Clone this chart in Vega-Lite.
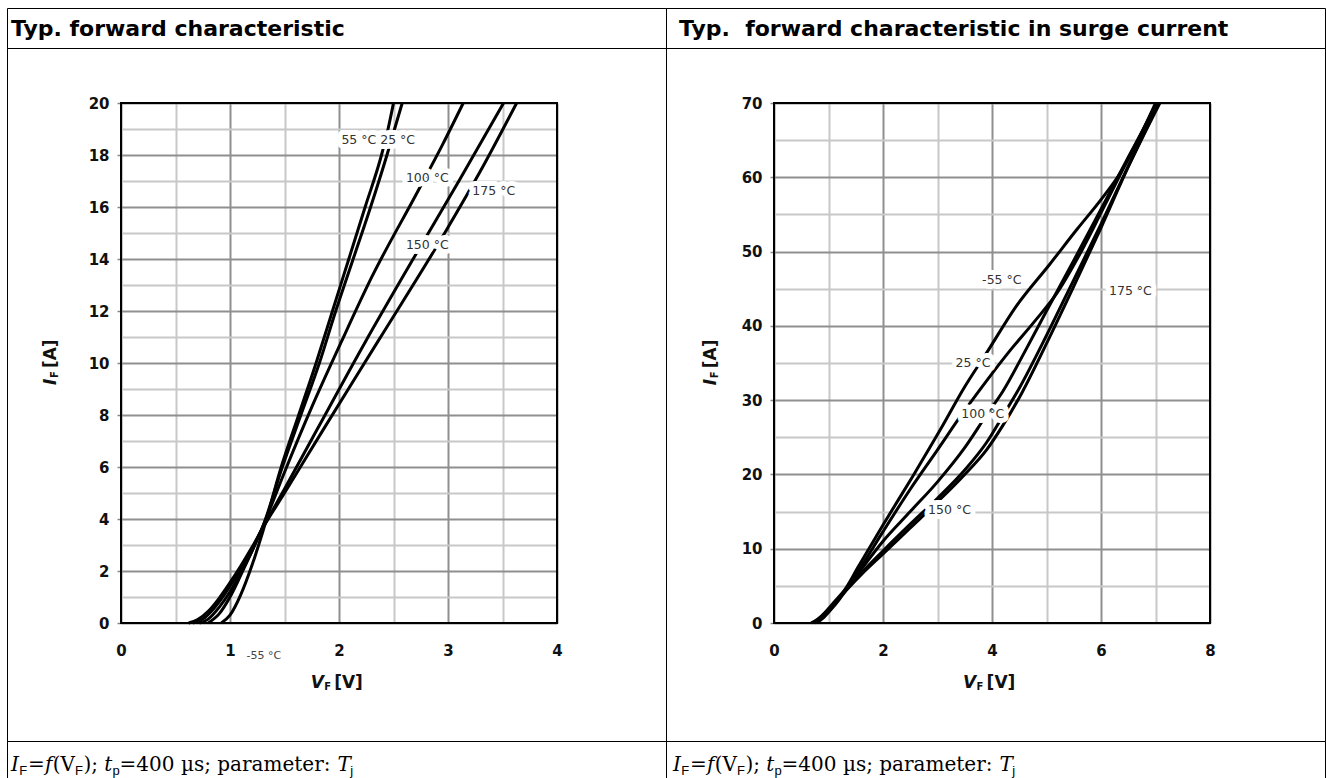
{
  "$schema": "https://vega.github.io/schema/vega-lite/v6.json",
  "background": "white",
  "padding": {"left": 6, "top": 7, "right": 0, "bottom": 0},
  "bounds": "flush",
  "spacing": 0,
  "columns": 2,
  "datasets": {
    "left": [
      {"V": 0.92, "I": 0, "T": "-55 °C"}, {"V": 1.0, "I": 0.3, "T": "-55 °C"}, {"V": 1.1, "I": 1.1, "T": "-55 °C"}, {"V": 1.2, "I": 2.2, "T": "-55 °C"}, {"V": 1.3, "I": 3.5, "T": "-55 °C"}, {"V": 1.47, "I": 6, "T": "-55 °C"}, {"V": 1.63, "I": 8, "T": "-55 °C"}, {"V": 1.79, "I": 10, "T": "-55 °C"}, {"V": 1.94, "I": 12, "T": "-55 °C"}, {"V": 2.09, "I": 14, "T": "-55 °C"}, {"V": 2.24, "I": 16, "T": "-55 °C"}, {"V": 2.39, "I": 18, "T": "-55 °C"}, {"V": 2.45, "I": 19, "T": "-55 °C"}, {"V": 2.5, "I": 20, "T": "-55 °C"},
      {"V": 0.8, "I": 0, "T": "25 °C"}, {"V": 0.9, "I": 0.35, "T": "25 °C"}, {"V": 1.0, "I": 1.0, "T": "25 °C"}, {"V": 1.1, "I": 1.85, "T": "25 °C"}, {"V": 1.2, "I": 2.75, "T": "25 °C"}, {"V": 1.3, "I": 3.7, "T": "25 °C"}, {"V": 1.48, "I": 6, "T": "25 °C"}, {"V": 1.65, "I": 8, "T": "25 °C"}, {"V": 1.82, "I": 10, "T": "25 °C"}, {"V": 1.97, "I": 12, "T": "25 °C"}, {"V": 2.13, "I": 14, "T": "25 °C"}, {"V": 2.29, "I": 16, "T": "25 °C"}, {"V": 2.44, "I": 18, "T": "25 °C"}, {"V": 2.51, "I": 19, "T": "25 °C"}, {"V": 2.58, "I": 20, "T": "25 °C"},
      {"V": 0.72, "I": 0, "T": "100 °C"}, {"V": 0.8, "I": 0.15, "T": "100 °C"}, {"V": 0.9, "I": 0.6, "T": "100 °C"}, {"V": 1.0, "I": 1.2, "T": "100 °C"}, {"V": 1.1, "I": 1.95, "T": "100 °C"}, {"V": 1.2, "I": 2.75, "T": "100 °C"}, {"V": 1.3, "I": 3.7, "T": "100 °C"}, {"V": 1.5, "I": 5.8, "T": "100 °C"}, {"V": 1.75, "I": 8.3, "T": "100 °C"}, {"V": 2.02, "I": 10.8, "T": "100 °C"}, {"V": 2.3, "I": 13.3, "T": "100 °C"}, {"V": 2.71, "I": 16.5, "T": "100 °C"}, {"V": 2.95, "I": 18.4, "T": "100 °C"}, {"V": 3.14, "I": 20, "T": "100 °C"},
      {"V": 0.66, "I": 0, "T": "150 °C"}, {"V": 0.75, "I": 0.15, "T": "150 °C"}, {"V": 0.85, "I": 0.55, "T": "150 °C"}, {"V": 0.95, "I": 1.1, "T": "150 °C"}, {"V": 1.05, "I": 1.75, "T": "150 °C"}, {"V": 1.15, "I": 2.45, "T": "150 °C"}, {"V": 1.3, "I": 3.65, "T": "150 °C"}, {"V": 1.5, "I": 5.15, "T": "150 °C"}, {"V": 1.8, "I": 7.45, "T": "150 °C"}, {"V": 2.24, "I": 10.8, "T": "150 °C"}, {"V": 2.68, "I": 14.0, "T": "150 °C"}, {"V": 3.1, "I": 17.0, "T": "150 °C"}, {"V": 3.51, "I": 20, "T": "150 °C"},
      {"V": 0.62, "I": 0, "T": "175 °C"}, {"V": 0.7, "I": 0.12, "T": "175 °C"}, {"V": 0.8, "I": 0.45, "T": "175 °C"}, {"V": 0.9, "I": 0.95, "T": "175 °C"}, {"V": 1.0, "I": 1.55, "T": "175 °C"}, {"V": 1.1, "I": 2.2, "T": "175 °C"}, {"V": 1.2, "I": 2.9, "T": "175 °C"}, {"V": 1.3, "I": 3.65, "T": "175 °C"}, {"V": 1.5, "I": 5.0, "T": "175 °C"}, {"V": 1.85, "I": 7.4, "T": "175 °C"}, {"V": 2.36, "I": 10.85, "T": "175 °C"}, {"V": 2.97, "I": 15.0, "T": "175 °C"}, {"V": 3.3, "I": 17.4, "T": "175 °C"}, {"V": 3.63, "I": 20, "T": "175 °C"}
    ],
    "right": [
      {"V": 0.68, "I": 0, "T": "-55 °C"}, {"V": 0.8, "I": 0.5, "T": "-55 °C"}, {"V": 0.95, "I": 1.5, "T": "-55 °C"}, {"V": 1.1, "I": 2.8, "T": "-55 °C"}, {"V": 1.3, "I": 4.5, "T": "-55 °C"}, {"V": 1.54, "I": 7.5, "T": "-55 °C"}, {"V": 2.0, "I": 13.2, "T": "-55 °C"}, {"V": 2.55, "I": 19.8, "T": "-55 °C"}, {"V": 3.05, "I": 26.0, "T": "-55 °C"}, {"V": 3.5, "I": 31.8, "T": "-55 °C"}, {"V": 3.93, "I": 36.7, "T": "-55 °C"}, {"V": 4.43, "I": 42.5, "T": "-55 °C"}, {"V": 5.06, "I": 48.3, "T": "-55 °C"}, {"V": 5.56, "I": 53.0, "T": "-55 °C"}, {"V": 6.0, "I": 57.0, "T": "-55 °C"}, {"V": 6.32, "I": 60.2, "T": "-55 °C"}, {"V": 6.6, "I": 63.8, "T": "-55 °C"}, {"V": 7.0, "I": 70, "T": "-55 °C"},
      {"V": 0.75, "I": 0, "T": "25 °C"}, {"V": 0.9, "I": 0.8, "T": "25 °C"}, {"V": 1.05, "I": 2.0, "T": "25 °C"}, {"V": 1.2, "I": 3.3, "T": "25 °C"}, {"V": 1.3, "I": 4.3, "T": "25 °C"}, {"V": 1.6, "I": 7.6, "T": "25 °C"}, {"V": 2.0, "I": 12.3, "T": "25 °C"}, {"V": 2.5, "I": 18.0, "T": "25 °C"}, {"V": 3.0, "I": 23.3, "T": "25 °C"}, {"V": 3.4, "I": 27.6, "T": "25 °C"}, {"V": 3.9, "I": 32.6, "T": "25 °C"}, {"V": 4.3, "I": 36.4, "T": "25 °C"}, {"V": 4.77, "I": 40.5, "T": "25 °C"}, {"V": 5.2, "I": 44.5, "T": "25 °C"}, {"V": 5.6, "I": 49.5, "T": "25 °C"}, {"V": 6.0, "I": 55.2, "T": "25 °C"}, {"V": 6.5, "I": 62.5, "T": "25 °C"}, {"V": 7.02, "I": 70, "T": "25 °C"},
      {"V": 0.78, "I": 0, "T": "100 °C"}, {"V": 0.92, "I": 0.8, "T": "100 °C"}, {"V": 1.07, "I": 2.0, "T": "100 °C"}, {"V": 1.2, "I": 3.2, "T": "100 °C"}, {"V": 1.3, "I": 4.2, "T": "100 °C"}, {"V": 1.6, "I": 7.2, "T": "100 °C"}, {"V": 2.0, "I": 11.0, "T": "100 °C"}, {"V": 2.5, "I": 15.0, "T": "100 °C"}, {"V": 3.0, "I": 19.0, "T": "100 °C"}, {"V": 3.5, "I": 23.6, "T": "100 °C"}, {"V": 3.9, "I": 28.0, "T": "100 °C"}, {"V": 4.2, "I": 31.2, "T": "100 °C"}, {"V": 4.6, "I": 36.5, "T": "100 °C"}, {"V": 5.0, "I": 42.0, "T": "100 °C"}, {"V": 5.5, "I": 48.8, "T": "100 °C"}, {"V": 6.0, "I": 55.7, "T": "100 °C"}, {"V": 6.5, "I": 62.7, "T": "100 °C"}, {"V": 7.04, "I": 70, "T": "100 °C"},
      {"V": 0.72, "I": 0, "T": "150 °C"}, {"V": 0.88, "I": 0.8, "T": "150 °C"}, {"V": 1.03, "I": 2.0, "T": "150 °C"}, {"V": 1.17, "I": 3.1, "T": "150 °C"}, {"V": 1.3, "I": 4.2, "T": "150 °C"}, {"V": 1.6, "I": 6.7, "T": "150 °C"}, {"V": 2.0, "I": 9.7, "T": "150 °C"}, {"V": 2.5, "I": 13.3, "T": "150 °C"}, {"V": 3.0, "I": 16.8, "T": "150 °C"}, {"V": 3.5, "I": 20.6, "T": "150 °C"}, {"V": 3.9, "I": 24.3, "T": "150 °C"}, {"V": 4.2, "I": 27.9, "T": "150 °C"}, {"V": 4.5, "I": 31.6, "T": "150 °C"}, {"V": 5.0, "I": 38.7, "T": "150 °C"}, {"V": 5.5, "I": 46.2, "T": "150 °C"}, {"V": 6.0, "I": 53.7, "T": "150 °C"}, {"V": 6.5, "I": 61.5, "T": "150 °C"}, {"V": 7.06, "I": 70, "T": "150 °C"},
      {"V": 0.7, "I": 0, "T": "175 °C"}, {"V": 0.85, "I": 0.7, "T": "175 °C"}, {"V": 1.0, "I": 1.9, "T": "175 °C"}, {"V": 1.15, "I": 3.0, "T": "175 °C"}, {"V": 1.3, "I": 4.2, "T": "175 °C"}, {"V": 1.6, "I": 6.5, "T": "175 °C"}, {"V": 2.0, "I": 9.3, "T": "175 °C"}, {"V": 2.5, "I": 12.8, "T": "175 °C"}, {"V": 3.0, "I": 16.3, "T": "175 °C"}, {"V": 3.5, "I": 20.0, "T": "175 °C"}, {"V": 3.9, "I": 23.3, "T": "175 °C"}, {"V": 4.2, "I": 26.6, "T": "175 °C"}, {"V": 4.55, "I": 31.0, "T": "175 °C"}, {"V": 5.0, "I": 37.6, "T": "175 °C"}, {"V": 5.5, "I": 45.3, "T": "175 °C"}, {"V": 6.0, "I": 53.2, "T": "175 °C"}, {"V": 6.5, "I": 61.4, "T": "175 °C"}, {"V": 7.08, "I": 70, "T": "175 °C"}
    ],
    "leftLabels": [
      {"V": 2.36, "I": 18.58, "label": "55 °C 25 °C"},
      {"V": 2.81, "I": 17.1, "label": "100 °C"},
      {"V": 3.42, "I": 16.6, "label": "175 °C"},
      {"V": 2.81, "I": 14.55, "label": "150 °C"}
    ],
    "rightLabels": [
      {"V": 4.18, "I": 46.2, "label": "-55 °C"},
      {"V": 6.54, "I": 44.75, "label": "175 °C"},
      {"V": 3.65, "I": 35.0, "label": "25 °C"},
      {"V": 3.83, "I": 28.2, "label": "100 °C"},
      {"V": 3.22, "I": 15.2, "label": "150 °C"}
    ]
  },
  "concat": [
    {
      "width": 659, "height": 40,
      "data": {"values": [{"t": "Typ. forward characteristic"}]},
      "mark": {"type": "text", "align": "left", "baseline": "alphabetic", "font": "DejaVu Sans", "fontSize": 22, "fontWeight": "bold", "color": "#000", "dx": 4, "dy": 28},
      "encoding": {
        "text": {"field": "t"},
        "x": {"datum": 0, "type": "quantitative", "scale": {"domain": [0, 1]}, "axis": null},
        "y": {"datum": 1, "type": "quantitative", "scale": {"domain": [0, 1]}, "axis": null}
      }
    },
    {
      "width": 659, "height": 40,
      "data": {"values": [{"t": "Typ.\u00a0 forward characteristic in surge current"}]},
      "mark": {"type": "text", "align": "left", "baseline": "alphabetic", "font": "DejaVu Sans", "fontSize": 22, "fontWeight": "bold", "color": "#000", "dx": 13, "dy": 28},
      "encoding": {
        "text": {"field": "t"},
        "x": {"datum": 0, "type": "quantitative", "scale": {"domain": [0, 1]}, "axis": null},
        "y": {"datum": 1, "type": "quantitative", "scale": {"domain": [0, 1]}, "axis": null}
      }
    },
    {
      "width": 659, "height": 693,
      "layer": [
        {
          "data": {"name": "left"},
          "mark": {"type": "line", "color": "#000", "strokeWidth": 3, "strokeJoin": "round", "interpolate": "monotone"},
          "encoding": {
            "x": {"field": "V", "type": "quantitative",
              "scale": {"domain": [0, 4], "range": [114, 550], "nice": false, "zero": false},
              "axis": {"orient": "top", "offset": -55, "values": [0, 0.5, 1, 1.5, 2, 2.5, 3, 3.5, 4], "grid": true, "gridWidth": 2,
                "gridColor": {"condition": {"test": "datum.value % 1 === 0", "value": "#8f8f8f"}, "value": "#c8c8c8"},
                "labels": false, "ticks": false, "domain": false, "title": null}},
            "y": {"field": "I", "type": "quantitative",
              "scale": {"domain": [0, 20], "range": [575, 55], "nice": false, "zero": false},
              "axis": {"orient": "left", "offset": -114, "values": [0, 1, 2, 3, 4, 5, 6, 7, 8, 9, 10, 11, 12, 13, 14, 15, 16, 17, 18, 19, 20], "grid": true, "gridWidth": 2,
                "gridColor": {"condition": {"test": "datum.value % 2 === 0", "value": "#8f8f8f"}, "value": "#c8c8c8"},
                "labelExpr": "datum.value % 2 === 0 ? datum.label : ''", "labelFont": "DejaVu Sans", "labelFontSize": 15, "labelFontWeight": "bold", "labelColor": "#111", "labelPadding": 8, "labelOverlap": false, "labelFlush": false,
                "ticks": true, "tickSize": 4, "tickColor": "#888", "tickWidth": 1.5,
                "tickOpacity": {"condition": {"test": "datum.value % 2 === 0", "value": 1}, "value": 0},
                "domain": false, "title": null}},
            "detail": {"field": "T"}
          }
        },
        {
          "data": {"name": "leftLabels"},
          "mark": {"type": "text", "font": "DejaVu Sans", "fontSize": 12.5, "fill": "white", "stroke": "white", "strokeWidth": 10, "strokeJoin": "round", "align": "center", "baseline": "middle"},
          "encoding": {
            "x": {"field": "V", "type": "quantitative",
              "scale": {"domain": [0, 4], "range": [114, 550], "nice": false, "zero": false},
              "axis": {"orient": "bottom", "offset": -118, "values": [0, 1, 2, 3, 4], "grid": false, "ticks": false, "domain": false, "title": null,
                "labelFont": "DejaVu Sans", "labelFontSize": 15, "labelFontWeight": "bold", "labelColor": "#111", "labelPadding": 20, "labelOverlap": false, "labelFlush": false}},
            "y": {"field": "I", "type": "quantitative", "scale": {"domain": [0, 20], "range": [575, 55], "nice": false, "zero": false}, "axis": null},
            "text": {"field": "label"}
          }
        },
        {
          "data": {"name": "leftLabels"},
          "mark": {"type": "text", "font": "DejaVu Sans", "fontSize": 12.5, "color": "#333", "align": "center", "baseline": "middle"},
          "encoding": {
            "x": {"field": "V", "type": "quantitative", "scale": {"domain": [0, 4], "range": [114, 550], "nice": false, "zero": false}, "axis": null},
            "y": {"field": "I", "type": "quantitative", "scale": {"domain": [0, 20], "range": [575, 55], "nice": false, "zero": false}, "axis": null},
            "text": {"field": "label"}
          }
        },
        {
          "data": {"values": [{"V": 1.31, "I": -1.27, "label": "-55 °C"}]},
          "mark": {"type": "text", "font": "DejaVu Sans", "fontSize": 11, "color": "#444", "align": "center", "baseline": "middle"},
          "encoding": {
            "x": {"field": "V", "type": "quantitative", "scale": {"domain": [0, 4], "range": [114, 550], "nice": false, "zero": false}, "axis": null},
            "y": {"field": "I", "type": "quantitative", "scale": {"domain": [0, 20], "range": [575, 55], "nice": false, "zero": false}, "axis": null},
            "text": {"field": "label"}
          }
        },
        {
          "data": {"values": [{}]},
          "mark": {"type": "rect", "fill": null, "stroke": "#000", "strokeWidth": 2},
          "encoding": {
            "x": {"datum": 0, "type": "quantitative", "scale": {"domain": [0, 4], "range": [114, 550], "nice": false, "zero": false}, "axis": null},
            "x2": {"datum": 4},
            "y": {"datum": 0, "type": "quantitative", "scale": {"domain": [0, 20], "range": [575, 55], "nice": false, "zero": false}, "axis": null},
            "y2": {"datum": 20}
          }
        },
        {
          "data": {"values": [{}]},
          "layer": [
            {"mark": {"type": "text", "text": "I", "font": "DejaVu Sans", "fontSize": 17, "fontWeight": "bold", "fontStyle": "italic", "angle": 270, "align": "left", "baseline": "middle", "color": "#111"}},
            {"mark": {"type": "text", "text": "F", "font": "DejaVu Sans", "fontSize": 10, "fontWeight": "bold", "angle": 270, "align": "left", "baseline": "middle", "dx": 7, "dy": 4, "color": "#111"}},
            {"mark": {"type": "text", "text": "[A]", "font": "DejaVu Sans", "fontSize": 17, "fontWeight": "bold", "angle": 270, "align": "left", "baseline": "middle", "dx": 17, "color": "#111"}}
          ],
          "encoding": {
            "x": {"datum": -0.64, "type": "quantitative", "scale": {"domain": [0, 4], "range": [114, 550], "nice": false, "zero": false}, "axis": null},
            "y": {"datum": 9.15, "type": "quantitative", "scale": {"domain": [0, 20], "range": [575, 55], "nice": false, "zero": false}, "axis": null}
          }
        },
        {
          "data": {"values": [{}]},
          "layer": [
            {"mark": {"type": "text", "text": "V", "font": "DejaVu Sans", "fontSize": 17, "fontWeight": "bold", "fontStyle": "italic", "align": "left", "baseline": "middle", "color": "#111"}},
            {"mark": {"type": "text", "text": "F", "font": "DejaVu Sans", "fontSize": 10, "fontWeight": "bold", "align": "left", "baseline": "middle", "dx": 13.5, "dy": 4, "color": "#111"}},
            {"mark": {"type": "text", "text": "[V]", "font": "DejaVu Sans", "fontSize": 17, "fontWeight": "bold", "align": "left", "baseline": "middle", "dx": 23.5, "color": "#111"}}
          ],
          "encoding": {
            "x": {"datum": 1.74, "type": "quantitative", "scale": {"domain": [0, 4], "range": [114, 550], "nice": false, "zero": false}, "axis": null},
            "y": {"datum": -2.31, "type": "quantitative", "scale": {"domain": [0, 20], "range": [575, 55], "nice": false, "zero": false}, "axis": null}
          }
        }
      ],
      "resolve": {"axis": {"x": "independent", "y": "independent"}}
    },
    {
      "width": 659, "height": 693,
      "layer": [
        {
          "data": {"name": "right"},
          "mark": {"type": "line", "color": "#000", "strokeWidth": 3, "strokeJoin": "round", "interpolate": "monotone"},
          "encoding": {
            "x": {"field": "V", "type": "quantitative",
              "scale": {"domain": [0, 8], "range": [108, 544], "nice": false, "zero": false},
              "axis": {"orient": "top", "offset": -55, "values": [0, 1, 2, 3, 4, 5, 6, 7, 8], "grid": true, "gridWidth": 2,
                "gridColor": {"condition": {"test": "datum.value % 2 === 0", "value": "#8f8f8f"}, "value": "#c8c8c8"},
                "labels": false, "ticks": false, "domain": false, "title": null}},
            "y": {"field": "I", "type": "quantitative",
              "scale": {"domain": [0, 70], "range": [575, 55], "nice": false, "zero": false},
              "axis": {"orient": "left", "offset": -108, "values": [0, 5, 10, 15, 20, 25, 30, 35, 40, 45, 50, 55, 60, 65, 70], "grid": true, "gridWidth": 2,
                "gridColor": {"condition": {"test": "datum.value % 10 === 0", "value": "#8f8f8f"}, "value": "#c8c8c8"},
                "labelExpr": "datum.value % 10 === 0 ? datum.label : ''", "labelFont": "DejaVu Sans", "labelFontSize": 15, "labelFontWeight": "bold", "labelColor": "#111", "labelPadding": 8, "labelOverlap": false, "labelFlush": false,
                "ticks": true, "tickSize": 4, "tickColor": "#888", "tickWidth": 1.5,
                "tickOpacity": {"condition": {"test": "datum.value % 10 === 0", "value": 1}, "value": 0},
                "domain": false, "title": null}},
            "detail": {"field": "T"}
          }
        },
        {
          "data": {"name": "rightLabels"},
          "mark": {"type": "text", "font": "DejaVu Sans", "fontSize": 12.5, "fill": "white", "stroke": "white", "strokeWidth": 10, "strokeJoin": "round", "align": "center", "baseline": "middle"},
          "encoding": {
            "x": {"field": "V", "type": "quantitative",
              "scale": {"domain": [0, 8], "range": [108, 544], "nice": false, "zero": false},
              "axis": {"orient": "bottom", "offset": -118, "values": [0, 2, 4, 6, 8], "grid": false, "ticks": false, "domain": false, "title": null,
                "labelFont": "DejaVu Sans", "labelFontSize": 15, "labelFontWeight": "bold", "labelColor": "#111", "labelPadding": 20, "labelOverlap": false, "labelFlush": false}},
            "y": {"field": "I", "type": "quantitative", "scale": {"domain": [0, 70], "range": [575, 55], "nice": false, "zero": false}, "axis": null},
            "text": {"field": "label"}
          }
        },
        {
          "data": {"name": "rightLabels"},
          "mark": {"type": "text", "font": "DejaVu Sans", "fontSize": 12.5, "color": "#333", "align": "center", "baseline": "middle"},
          "encoding": {
            "x": {"field": "V", "type": "quantitative", "scale": {"domain": [0, 8], "range": [108, 544], "nice": false, "zero": false}, "axis": null},
            "y": {"field": "I", "type": "quantitative", "scale": {"domain": [0, 70], "range": [575, 55], "nice": false, "zero": false}, "axis": null},
            "text": {"field": "label"}
          }
        },
        {
          "data": {"values": [{}]},
          "mark": {"type": "rect", "fill": null, "stroke": "#000", "strokeWidth": 2},
          "encoding": {
            "x": {"datum": 0, "type": "quantitative", "scale": {"domain": [0, 8], "range": [108, 544], "nice": false, "zero": false}, "axis": null},
            "x2": {"datum": 8},
            "y": {"datum": 0, "type": "quantitative", "scale": {"domain": [0, 70], "range": [575, 55], "nice": false, "zero": false}, "axis": null},
            "y2": {"datum": 70}
          }
        },
        {
          "data": {"values": [{}]},
          "layer": [
            {"mark": {"type": "text", "text": "I", "font": "DejaVu Sans", "fontSize": 17, "fontWeight": "bold", "fontStyle": "italic", "angle": 270, "align": "left", "baseline": "middle", "color": "#111"}},
            {"mark": {"type": "text", "text": "F", "font": "DejaVu Sans", "fontSize": 10, "fontWeight": "bold", "angle": 270, "align": "left", "baseline": "middle", "dx": 7, "dy": 4, "color": "#111"}},
            {"mark": {"type": "text", "text": "[A]", "font": "DejaVu Sans", "fontSize": 17, "fontWeight": "bold", "angle": 270, "align": "left", "baseline": "middle", "dx": 17, "color": "#111"}}
          ],
          "encoding": {
            "x": {"datum": -1.16, "type": "quantitative", "scale": {"domain": [0, 8], "range": [108, 544], "nice": false, "zero": false}, "axis": null},
            "y": {"datum": 32.0, "type": "quantitative", "scale": {"domain": [0, 70], "range": [575, 55], "nice": false, "zero": false}, "axis": null}
          }
        },
        {
          "data": {"values": [{}]},
          "layer": [
            {"mark": {"type": "text", "text": "V", "font": "DejaVu Sans", "fontSize": 17, "fontWeight": "bold", "fontStyle": "italic", "align": "left", "baseline": "middle", "color": "#111"}},
            {"mark": {"type": "text", "text": "F", "font": "DejaVu Sans", "fontSize": 10, "fontWeight": "bold", "align": "left", "baseline": "middle", "dx": 13.5, "dy": 4, "color": "#111"}},
            {"mark": {"type": "text", "text": "[V]", "font": "DejaVu Sans", "fontSize": 17, "fontWeight": "bold", "align": "left", "baseline": "middle", "dx": 23.5, "color": "#111"}}
          ],
          "encoding": {
            "x": {"datum": 3.47, "type": "quantitative", "scale": {"domain": [0, 8], "range": [108, 544], "nice": false, "zero": false}, "axis": null},
            "y": {"datum": -8.08, "type": "quantitative", "scale": {"domain": [0, 70], "range": [575, 55], "nice": false, "zero": false}, "axis": null}
          }
        }
      ],
      "resolve": {"axis": {"x": "independent", "y": "independent"}}
    },
    {
      "width": 659, "height": 38,
      "data": {"values": [{}]},
      "encoding": {
        "x": {"datum": 0, "type": "quantitative", "scale": {"domain": [0, 1]}, "axis": null},
        "y": {"datum": 1, "type": "quantitative", "scale": {"domain": [0, 1]}, "axis": null}
      },
      "layer": [
        {"mark": {"type": "text", "text": "I", "font": "DejaVu Serif", "fontSize": 20, "fontStyle": "italic", "align": "left", "baseline": "alphabetic", "dx": 4, "dy": 30, "color": "#000"}},
        {"mark": {"type": "text", "text": "F", "font": "Liberation Sans", "fontSize": 13, "align": "left", "baseline": "alphabetic", "dx": 12.2, "dy": 34, "color": "#000"}},
        {"mark": {"type": "text", "text": "=", "font": "DejaVu Serif", "fontSize": 20, "align": "left", "baseline": "alphabetic", "dx": 21.1, "dy": 30, "color": "#000"}},
        {"mark": {"type": "text", "text": "f", "font": "DejaVu Serif", "fontSize": 20, "fontStyle": "italic", "align": "left", "baseline": "alphabetic", "dx": 37.9, "dy": 30, "color": "#000"}},
        {"mark": {"type": "text", "text": "(V", "font": "DejaVu Serif", "fontSize": 20, "align": "left", "baseline": "alphabetic", "dx": 45.8, "dy": 30, "color": "#000"}},
        {"mark": {"type": "text", "text": "F", "font": "Liberation Sans", "fontSize": 13, "align": "left", "baseline": "alphabetic", "dx": 68, "dy": 34, "color": "#000"}},
        {"mark": {"type": "text", "text": ");", "font": "DejaVu Serif", "fontSize": 20, "align": "left", "baseline": "alphabetic", "dx": 76.4, "dy": 30, "color": "#000"}},
        {"mark": {"type": "text", "text": "t", "font": "DejaVu Serif", "fontSize": 20, "fontStyle": "italic", "align": "left", "baseline": "alphabetic", "dx": 97.3, "dy": 30, "color": "#000"}},
        {"mark": {"type": "text", "text": "p", "font": "Liberation Sans", "fontSize": 13, "align": "left", "baseline": "alphabetic", "dx": 105.4, "dy": 34, "color": "#000"}},
        {"mark": {"type": "text", "text": "=400 µs; parameter:", "font": "DejaVu Serif", "fontSize": 20, "align": "left", "baseline": "alphabetic", "dx": 112.6, "dy": 30, "color": "#000"}},
        {"mark": {"type": "text", "text": "T", "font": "DejaVu Serif", "fontSize": 20, "fontStyle": "italic", "align": "left", "baseline": "alphabetic", "dx": 330.6, "dy": 30, "color": "#000"}},
        {"mark": {"type": "text", "text": "j", "font": "Liberation Sans", "fontSize": 13, "align": "left", "baseline": "alphabetic", "dx": 343.2, "dy": 34, "color": "#000"}}
      ]
    },
    {
      "width": 659, "height": 38,
      "data": {"values": [{}]},
      "encoding": {
        "x": {"datum": 0, "type": "quantitative", "scale": {"domain": [0, 1]}, "axis": null},
        "y": {"datum": 1, "type": "quantitative", "scale": {"domain": [0, 1]}, "axis": null}
      },
      "layer": [
        {"mark": {"type": "text", "text": "I", "font": "DejaVu Serif", "fontSize": 20, "fontStyle": "italic", "align": "left", "baseline": "alphabetic", "dx": 7, "dy": 30, "color": "#000"}},
        {"mark": {"type": "text", "text": "F", "font": "Liberation Sans", "fontSize": 13, "align": "left", "baseline": "alphabetic", "dx": 15.2, "dy": 34, "color": "#000"}},
        {"mark": {"type": "text", "text": "=", "font": "DejaVu Serif", "fontSize": 20, "align": "left", "baseline": "alphabetic", "dx": 24.1, "dy": 30, "color": "#000"}},
        {"mark": {"type": "text", "text": "f", "font": "DejaVu Serif", "fontSize": 20, "fontStyle": "italic", "align": "left", "baseline": "alphabetic", "dx": 40.9, "dy": 30, "color": "#000"}},
        {"mark": {"type": "text", "text": "(V", "font": "DejaVu Serif", "fontSize": 20, "align": "left", "baseline": "alphabetic", "dx": 48.8, "dy": 30, "color": "#000"}},
        {"mark": {"type": "text", "text": "F", "font": "Liberation Sans", "fontSize": 13, "align": "left", "baseline": "alphabetic", "dx": 71, "dy": 34, "color": "#000"}},
        {"mark": {"type": "text", "text": ");", "font": "DejaVu Serif", "fontSize": 20, "align": "left", "baseline": "alphabetic", "dx": 79.4, "dy": 30, "color": "#000"}},
        {"mark": {"type": "text", "text": "t", "font": "DejaVu Serif", "fontSize": 20, "fontStyle": "italic", "align": "left", "baseline": "alphabetic", "dx": 100.3, "dy": 30, "color": "#000"}},
        {"mark": {"type": "text", "text": "p", "font": "Liberation Sans", "fontSize": 13, "align": "left", "baseline": "alphabetic", "dx": 108.4, "dy": 34, "color": "#000"}},
        {"mark": {"type": "text", "text": "=400 µs; parameter:", "font": "DejaVu Serif", "fontSize": 20, "align": "left", "baseline": "alphabetic", "dx": 115.6, "dy": 30, "color": "#000"}},
        {"mark": {"type": "text", "text": "T", "font": "DejaVu Serif", "fontSize": 20, "fontStyle": "italic", "align": "left", "baseline": "alphabetic", "dx": 333.6, "dy": 30, "color": "#000"}},
        {"mark": {"type": "text", "text": "j", "font": "Liberation Sans", "fontSize": 13, "align": "left", "baseline": "alphabetic", "dx": 346.2, "dy": 34, "color": "#000"}}
      ]
    }
  ],
  "config": {
    "font": "DejaVu Sans",
    "view": {"stroke": "#000", "strokeWidth": 1},
    "concat": {"spacing": 0}
  }
}
